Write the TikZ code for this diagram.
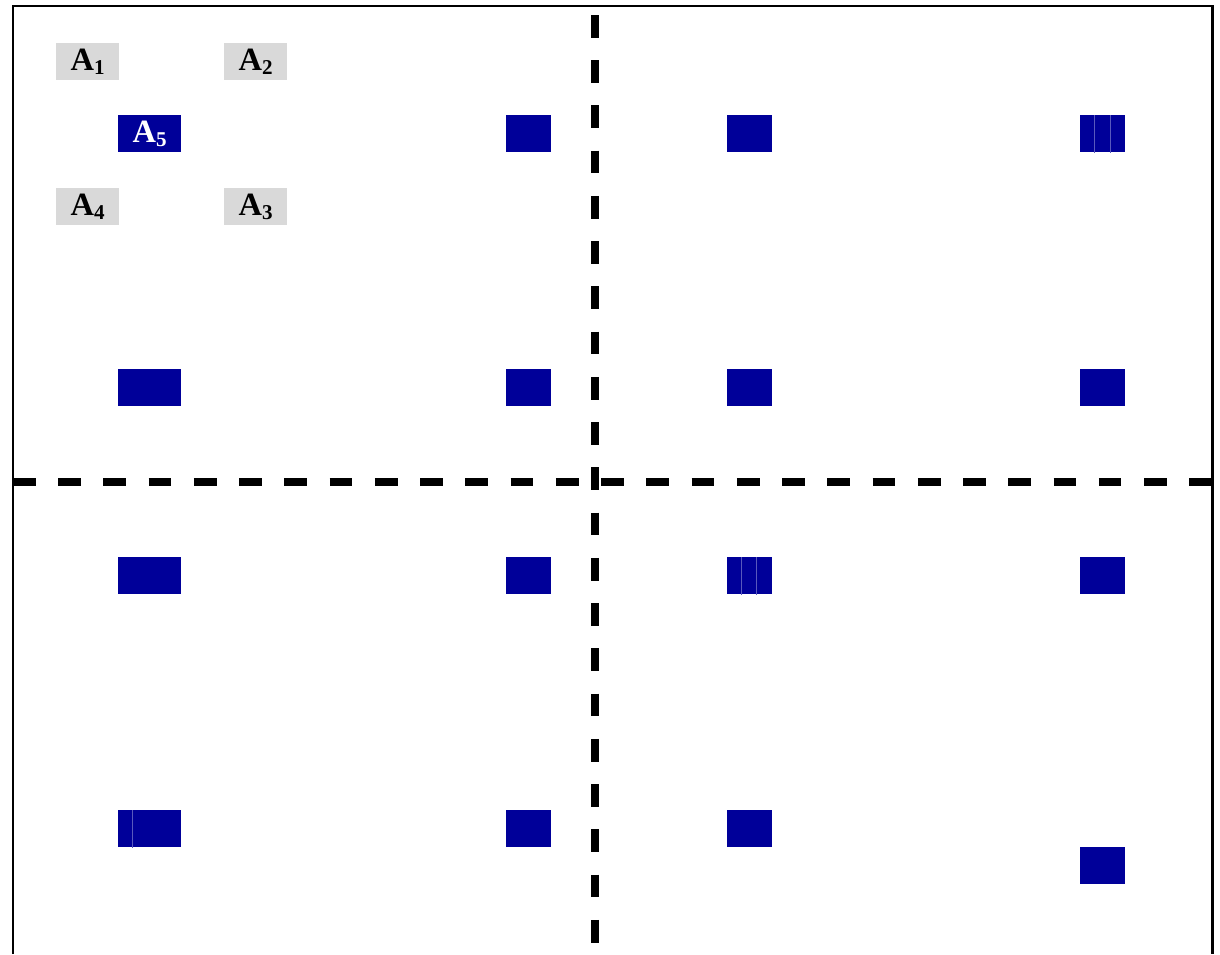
\documentclass[tikz,border=0pt]{standalone}
\usepackage{fontspec}
\setmainfont{Liberation Serif}
\usepackage{xcolor}
\usepackage{tikz}

\definecolor{boxnavy}{HTML}{000099}
\definecolor{labgray}{HTML}{D9D9D9}

% label with a lowered index
\newcommand{\alab}[1]{A\raisebox{-2.4pt}{\fontsize{12}{12}\selectfont\bfseries #1}}

\tikzset{
    navybox/.style={fill=boxnavy, minimum width=25.5pt, minimum height=21pt, inner sep=0pt, anchor=north west},
    widebox/.style={navybox, minimum width=35.7pt},
    graylab/.style={fill=labgray, minimum width=35.7pt, minimum height=21pt, inner sep=0pt, anchor=north west,
        font=\bfseries\fontsize{18.5}{18.5}\selectfont},
    divider/.style={line width=4pt, dash pattern=on 12.9pt off 12.85pt},
    seam/.style={draw=boxnavy!65!white, line width=0.4pt}
}

\begin{document}
\begin{tikzpicture}[x=0.02cm, y=-0.02cm]
        \useasboundingbox (0,0) rectangle (1220,954);

        % frame, open at the bottom
        \draw[line width=1.5pt] (13,954) -- (13,6) -- (1212.5,6) -- (1212.5,954);

        % quadrant dividers
        \coordinate (hl) at (13,482);
        \coordinate (hr) at (1212,482);
        \coordinate (vt) at (595,15);
        \coordinate (vb) at (595,947);
        \draw[divider] (hl) -- (hr);
        \draw[divider] (vt) -- (vb);

        % legend
        \node[graylab] (a1) at (56,43)  {\alab{1}};
        \node[graylab] (a2) at (224,43) {\alab{2}};
        \node[graylab] (a4) at (56,188) {\alab{4}};
        \node[graylab] (a3) at (224,188) {\alab{3}};

        % row 1
        \node[widebox, text=white, font=\bfseries\fontsize{18.5}{18.5}\selectfont] (b11) at (118,115) {\alab{5}};
        \node[navybox] (b12) at (506,115) {};
        \node[navybox] (b13) at (727,115) {};
        \node[navybox] (b14) at (1080,115) {};

        % row 2
        \node[widebox] (b21) at (118,369) {};
        \node[navybox] (b22) at (506,369) {};
        \node[navybox] (b23) at (727,369) {};
        \node[navybox] (b24) at (1080,369) {};

        % row 3
        \node[widebox] (b31) at (118,557) {};
        \node[navybox] (b32) at (506,557) {};
        \node[navybox] (b33) at (727,557) {};
        \node[navybox] (b34) at (1080,557) {};

        % row 4
        \node[widebox] (b41) at (118,810) {};
        \node[navybox] (b42) at (506,810) {};
        \node[navybox] (b43) at (727,810) {};
        \node[navybox] (b44) at (1080,847) {};

        % seams inside some boxes
        \draw[seam] ([xshift=8.1pt]b14.north west) -- ([xshift=8.1pt]b14.south west);
        \draw[seam] ([xshift=17pt]b14.north west) -- ([xshift=17pt]b14.south west);
        \draw[seam] ([xshift=8pt]b33.north west) -- ([xshift=8pt]b33.south west);
        \draw[seam] ([xshift=16.5pt]b33.north west) -- ([xshift=16.5pt]b33.south west);
        \draw[seam] ([xshift=8pt]b41.north west) -- ([xshift=8pt]b41.south west);

    \end{tikzpicture}
\end{document}
